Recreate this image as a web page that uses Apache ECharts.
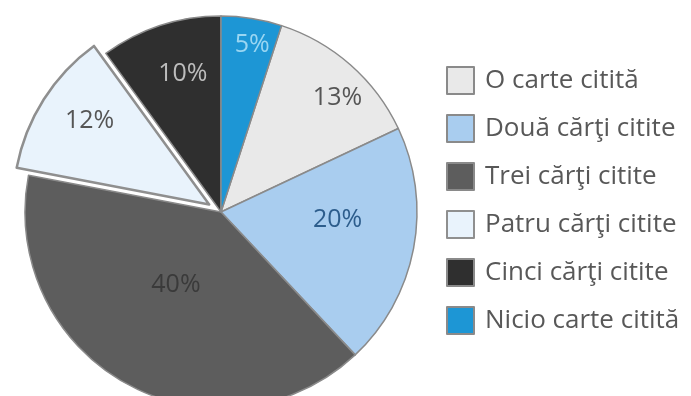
<!DOCTYPE html>
<html>
<head>
<meta charset="utf-8">
<script src="https://cdn.jsdelivr.net/npm/echarts@6/dist/echarts.min.js"></script>
<style>
  html, body { margin: 0; padding: 0; background: #fff; }
  #chart { width: 691px; height: 396px; }
</style>
</head>
<body>
<div id="chart"></div>
<script>
  const categories = ['O carte citită', 'Două cărţi citite', 'Trei cărţi citite', 'Patru cărţi citite', 'Cinci cărţi citite', 'Nicio carte citită']
  const values = [13, 20, 40, 12, 10, 5]

  const colors = ['#e9e9e9', '#a9cdef', '#5d5d5d', '#e9f3fc', '#2f2f2f', '#1d96d5']
  const labelColors = ['#555', '#2d5d8c', '#3a3a3a', '#555', '#bdbdbd', '#9ad6f2']
  // how far out each label sits, as part of the radius, plus a small nudge
  const labelRatio = [0.76, 0.58, 0.43, 0.75, 0.73, 0.87]
  const labelNudge = [[16, 0], [2, -14], [-3, -4], [7, -3], [7, 1], [4, 4]]

  const startAngle = 72
  const radius = 196
  const total = values.reduce((a, b) => a + b, 0)
  let acc = 0
  const midAngles = values.map(v => {
    const mid = startAngle - (acc + v / 2) / total * 360
    acc += v
    return mid * Math.PI / 180
  })

  const chart = echarts.init(document.getElementById('chart'))
  chart.setOption({
    animation: false,
    legend: {
      orient: 'vertical',
      left: 441,
      top: 61,
      itemWidth: 27,
      itemHeight: 27,
      itemGap: 19,
      icon: 'rect',
      textStyle: { fontFamily: 'Open Sans', fontSize: 26, color: '#585858', padding: [0, 0, 0, 6] },
      data: categories
    },
    series: [{
      type: 'pie',
      center: [221, 212],
      radius: radius,
      startAngle: startAngle,
      clockwise: true,
      selectedMode: 'single',
      selectedOffset: 14,
      itemStyle: { borderColor: '#8a8a8a', borderWidth: 1.5 },
      label: {
        position: 'inside',
        fontFamily: 'Open Sans',
        fontSize: 25,
        formatter: '{c}%'
      },
      labelLayout: function (params) {
        const i = params.dataIndex
        const d = (labelRatio[i] - 0.5) * radius
        return {
          dx: d * Math.cos(midAngles[i]) + labelNudge[i][0],
          dy: -d * Math.sin(midAngles[i]) + labelNudge[i][1]
        }
      },
      emphasis: { disabled: true },
      data: categories.map((name, i) => ({
        name: name,
        value: values[i],
        selected: i === 3,
        itemStyle: i === 3 ? { color: colors[i], borderWidth: 2.5, borderColor: '#8f8f8f' } : { color: colors[i] },
        label: { color: labelColors[i] }
      }))
    }]
  })
</script>
</body>
</html>
